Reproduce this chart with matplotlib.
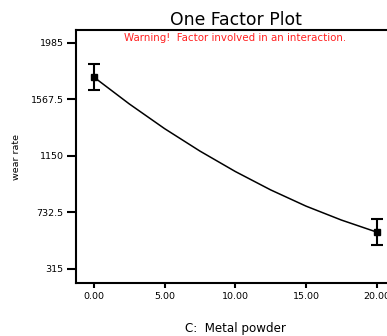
import matplotlib
matplotlib.use('Agg')
from matplotlib import pyplot as plt

# values
metal_powder = [0.0, 20.0]
wear_mean = [1732, 586]
wear_err = [94, 93]

curve_x = [0.0, 2.5, 5.0, 7.5, 10.0, 12.5, 15.0, 17.5, 20.0]
curve_y = [1732, 1534, 1351, 1185, 1034, 898, 778, 675, 586]

x_ticks = [0.0, 5.0, 10.0, 15.0, 20.0]
x_ticklabels = ['0.00', '5.00', '10.00', '15.00', '20.00']
y_ticks = [315, 732.5, 1150, 1567.5, 1985]
y_ticklabels = ['315', '732.5', '1150', '1567.5', '1985']

W, H = 387, 336
fig = plt.figure(figsize=(W / 100, H / 100), dpi=100)
# axes runs past the right edge, like the cropped original
left, right, top, bottom = 76, 395, 30, 283
ax = fig.add_axes([left / W, 1 - bottom / H, (right - left) / W, (bottom - top) / H])

ax.plot(curve_x, curve_y, color='black', lw=1.1)
ax.errorbar(metal_powder, wear_mean, yerr=wear_err, fmt='s', color='black',
            ms=4.5, elinewidth=1.5, capsize=4.6, capthick=1.5)

ax.set_xlim(-1.27, 21.3)
ax.set_ylim(209, 2081)
ax.set_xticks(x_ticks)
ax.set_xticklabels(x_ticklabels)
ax.set_yticks(y_ticks)
ax.set_yticklabels(y_ticklabels)

for s in ax.spines.values():
    s.set_linewidth(1.5)
ax.tick_params(axis='x', length=3.6, width=1.5, labelsize=6.8, pad=3)
ax.tick_params(axis='y', length=6.5, width=1.5, labelsize=6.8, pad=2.4)

ax.set_title('One Factor Plot', fontsize=12.4, pad=3.4)
ax.text(0.5, 0.968, 'Warning!  Factor involved in an interaction.', color='#ff2020',
        fontsize=7.4, ha='center', va='center', transform=ax.transAxes)

ax.set_ylabel('wear rate', fontsize=6.8)
ax.yaxis.set_label_coords(-0.172, 0.5)
ax.set_xlabel('C:  Metal powder', fontsize=8.6)
ax.xaxis.set_label_coords(0.5, -0.156)

plt.savefig('out.png', dpi=100)
